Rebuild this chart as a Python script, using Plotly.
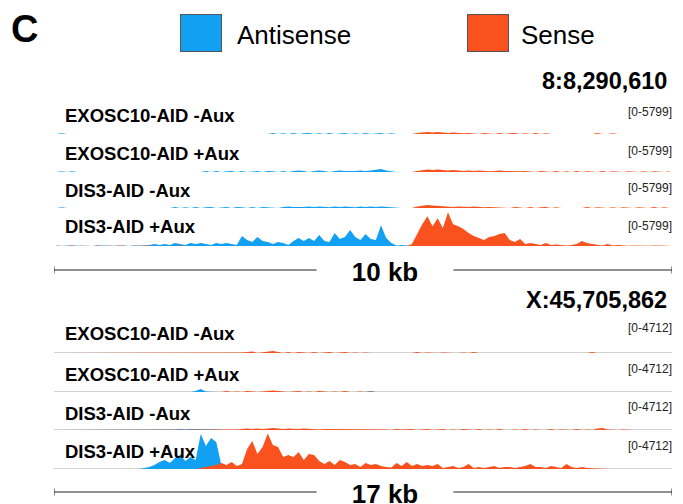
import plotly.graph_objects as go

W, H = 683, 504
FONT = "Liberation Sans, Arial, Helvetica, sans-serif"
BLUE = "#12A0F2"
ORANGE = "#F9521E"

# ---------------- data ----------------
panel_letter = "C"
legend_labels = ["Antisense", "Sense"]
track_names = ["EXOSC10-AID -Aux", "EXOSC10-AID +Aux", "DIS3-AID -Aux", "DIS3-AID +Aux"]
top_locus = "8:8,290,610"
bottom_locus = "X:45,705,862"
top_max = 5799
bottom_max = 4712
top_range_label = "[0-5799]"
bottom_range_label = "[0-4712]"
top_span_kb = 10
bottom_span_kb = 17
top_scale_label = "10 kb"
bottom_scale_label = "17 kb"
N_BINS = 120

Z10 = [0, 0, 0, 0, 0, 0, 0, 0, 0, 0]

# top locus, antisense / sense coverage per bin
top_exo_minus_as = ([0, 110, 0, 0, 110, 0, 110, 0, 0, 110]
                    + [0, 110, 0, 110, 0, 0, 110, 0, 110, 0]
                    + [110, 0, 0, 110, 0, 110, 0, 110, 0, 0]
                    + [110, 0, 110, 0, 110, 0, 110, 0, 110, 0]
                    + [110, 0, 160, 0, 110, 0, 160, 0, 110, 160]
                    + [0, 110, 0, 160, 0, 110, 160, 0, 110, 0]
                    + [160, 0, 110, 160, 0, 110, 0, 0, 0, 0])
top_exo_minus_s = (Z10 * 7
                   + [160, 240, 320, 240, 320, 240, 160, 240, 160, 110]
                   + [160, 110, 0, 160, 110, 0, 160, 0, 110, 160]
                   + [0, 110, 0, 160, 0, 110, 0, 0, 110, 0]
                   + [110, 0, 0, 110, 0, 160, 0, 0, 110, 0]
                   + [0, 110, 0, 0, 110, 0, 0, 110, 0, 0])
top_exo_plus_as = ([0, 110, 0, 110, 0, 0, 110, 0, 0, 110]
                   + [0, 0, 110, 0, 110, 0, 0, 110, 0, 0]
                   + [110, 0, 110, 0, 0, 110, 0, 110, 0, 160]
                   + [0, 160, 0, 110, 160, 0, 160, 0, 110, 160]
                   + [0, 160, 110, 0, 160, 0, 160, 240, 160, 0]
                   + [160, 240, 160, 0, 160, 240, 160, 110, 160, 240]
                   + [160, 240, 320, 480, 240, 110, 0, 0, 0, 0])
top_exo_plus_s = (Z10 * 7
                  + [160, 240, 400, 320, 400, 320, 240, 320, 240, 160]
                  + [240, 160, 240, 160, 110, 160, 240, 160, 110, 160]
                  + [110, 160, 110, 0, 160, 110, 0, 160, 0, 110]
                  + [0, 160, 0, 110, 0, 0, 160, 0, 110, 0]
                  + [0, 110, 0, 0, 110, 0, 110, 0, 0, 110])
top_dis_minus_as = ([0, 110, 0, 0, 110, 0, 110, 0, 0, 110]
                    + [0, 110, 0, 0, 110, 0, 110, 0, 110, 0]
                    + [0, 110, 0, 160, 0, 110, 0, 160, 0, 110]
                    + [160, 0, 110, 160, 0, 160, 110, 0, 160, 0]
                    + [160, 110, 160, 0, 160, 240, 160, 110, 160, 240]
                    + [160, 240, 160, 110, 240, 160, 240, 160, 110, 240]
                    + [160, 240, 160, 240, 160, 110, 0, 0, 0, 0])
top_dis_minus_s = (Z10 * 7
                   + [240, 400, 480, 400, 320, 240, 240, 160, 240, 160]
                   + [160, 240, 160, 110, 160, 110, 160, 110, 0, 160]
                   + [110, 0, 160, 0, 110, 160, 0, 110, 0, 0]
                   + [110, 0, 0, 160, 0, 110, 0, 0, 110, 0]
                   + [110, 0, 0, 110, 0, 0, 160, 0, 110, 0])
top_dis_plus_as = ([80, 0, 80, 50, 0, 80, 50, 0, 80, 50]
                   + [80, 0, 50, 80, 0, 80, 50, 80, 160, 320]
                   + [160, 320, 160, 480, 320, 160, 480, 320, 480, 320]
                   + [160, 480, 320, 480, 320, 160, 1600, 960, 640, 1440]
                   + [800, 640, 320, 640, 480, 160, 800, 1280, 800, 1280]
                   + [800, 1760, 800, 640, 2080, 1120, 1440, 2560, 1440, 960]
                   + [1920, 1120, 960, 3360, 1280, 480, 80, 160, 80, 0])
top_dis_plus_s = ([50, 0, 0, 80, 0, 50, 0, 0, 80, 0]
                  + [50, 0, 80, 0, 0, 50, 0, 80, 0, 0]
                  + [0, 50, 0, 0, 80, 0, 0, 50, 0, 0]
                  + [80, 0, 0, 50, 0, 0, 0, 80, 0, 0]
                  + [50, 0, 0, 0, 80, 0, 0, 50, 0, 0]
                  + [0, 80, 0, 0, 0, 50, 0, 0, 0, 80]
                  + [0, 0, 50, 0, 0, 80, 0, 50, 0, 320]
                  + [1920, 3520, 4800, 3200, 4480, 2880, 5440, 3520, 3200, 2720]
                  + [2080, 1600, 1280, 960, 1440, 1600, 1920, 2080, 960, 640]
                  + [1120, 320, 480, 320, 160, 480, 160, 240, 160, 80]
                  + [160, 320, 800, 480, 320, 160, 80, 320, 80, 160]
                  + [80, 50, 80, 50, 80, 50, 80, 50, 80, 50])

# bottom locus
bot_exo_minus_as = (Z10 * 3 + [65, 0, 0, 0, 0, 0, 0, 0, 0, 0]
                    + Z10 * 3 + [0, 0, 65, 0, 0, 0, 0, 0, 0, 0] + Z10 * 4)
bot_exo_minus_s = (Z10
                   + [0, 0, 0, 0, 0, 0, 0, 0, 0, 65]
                   + [0, 0, 0, 0, 65, 0, 0, 0, 0, 0]
                   + [0, 0, 0, 65, 0, 0, 65, 130, 200, 0]
                   + [65, 130, 260, 130, 0, 130, 0, 130, 65, 0]
                   + [130, 0, 65, 130, 0, 65, 130, 0, 65, 0]
                   + [65, 0, 0, 65, 0, 65, 0, 0, 65, 0]
                   + [130, 0, 65, 0, 0, 65, 0, 0, 0, 65]
                   + [0, 130, 0, 0, 65, 0, 0, 65, 0, 0]
                   + [65, 0, 0, 0, 65, 0, 0, 0, 65, 0]
                   + [0, 0, 65, 0, 130, 0, 0, 0, 0, 0]
                   + [0, 0, 65, 0, 0, 0, 0, 0, 0, 0])
bot_exo_plus_as = (Z10 * 2 + [0, 0, 0, 0, 0, 0, 0, 130, 390, 65]
                   + Z10 * 3 + [0, 130, 0, 0, 0, 0, 0, 0, 0, 0] + Z10 * 5)
bot_exo_plus_s = (Z10 * 2
                  + [0, 0, 65, 0, 0, 0, 65, 0, 0, 0]
                  + [65, 0, 0, 130, 0, 65, 0, 130, 65, 0]
                  + [65, 130, 200, 130, 65, 0, 65, 130, 0, 65]
                  + [0, 130, 65, 0, 65, 0, 130, 0, 0, 65]
                  + [0, 65, 0, 0, 65, 0, 0, 65, 0, 0]
                  + [65, 0, 0, 0, 65, 0, 0, 0, 65, 0]
                  + [0, 65, 0, 0, 0, 0, 65, 0, 0, 0]
                  + [0, 65, 0, 0, 0, 0, 0, 65, 0, 0]
                  + [0, 0, 0, 65, 0, 0, 0, 0, 0, 0]
                  + Z10)
bot_dis_minus_as = (Z10 * 2 + [0, 0, 0, 65, 130, 65, 130, 130, 65, 130]
                    + [130, 65, 0, 0, 0, 0, 0, 0, 0, 0] + Z10 * 8)
bot_dis_minus_s = (Z10 * 3
                   + [0, 0, 0, 0, 0, 65, 130, 200, 130, 200]
                   + [130, 200, 260, 200, 130, 200, 130, 130, 200, 130]
                   + [130, 65, 130, 130, 65, 130, 65, 130, 65, 130]
                   + [65, 130, 65, 130, 65, 0, 130, 65, 65, 130]
                   + [0, 65, 130, 0, 65, 130, 0, 65, 0, 130]
                   + [65, 0, 130, 0, 65, 0, 130, 0, 0, 65]
                   + [0, 130, 0, 65, 0, 0, 130, 0, 65, 0]
                   + [0, 130, 0, 65, 0, 200, 260, 65, 0, 0]
                   + [65, 0, 0, 0, 0, 0, 0, 0, 0, 0])
bot_dis_plus_as = (Z10
                   + [0, 0, 0, 0, 0, 0, 0, 130, 260, 520]
                   + [920, 1180, 790, 1440, 1830, 1050, 1570, 1180, 4590, 3010]
                   + [4060, 3540, 520, 130, 65, 65, 0, 0, 0, 0]
                   + Z10 * 2
                   + [0, 0, 0, 260, 0, 0, 0, 0, 0, 0]
                   + Z10
                   + [0, 0, 0, 0, 0, 0, 0, 130, 0, 0]
                   + [0, 0, 0, 0, 200, 0, 0, 0, 130, 0]
                   + Z10 * 2)
bot_dis_plus_s = (Z10
                  + [0, 0, 0, 0, 0, 0, 0, 0, 0, 65]
                  + [0, 65, 0, 65, 0, 65, 65, 0, 130, 260]
                  + [390, 520, 790, 520, 920, 390, 660, 2620, 3670, 1970]
                  + [2880, 4650, 3140, 2880, 1570, 1830, 1570, 2230, 1180, 1970]
                  + [1830, 1050, 660, 1050, 520, 1180, 920, 520, 660, 260]
                  + [790, 520, 660, 390, 260, 200, 790, 390, 920, 390]
                  + [660, 390, 520, 390, 660, 130, 260, 390, 130, 260]
                  + [660, 130, 260, 130, 260, 390, 130, 260, 260, 130]
                  + [260, 390, 660, 260, 260, 130, 390, 260, 130, 660]
                  + [260, 130, 260, 130, 130, 65, 40, 0, 40, 0]
                  + [0, 40, 0, 0, 40, 0, 0, 40, 0, 0])

top_tracks = [(top_exo_minus_as, top_exo_minus_s), (top_exo_plus_as, top_exo_plus_s),
              (top_dis_minus_as, top_dis_minus_s), (top_dis_plus_as, top_dis_plus_s)]
bot_tracks = [(bot_exo_minus_as, bot_exo_minus_s), (bot_exo_plus_as, bot_exo_plus_s),
              (bot_dis_minus_as, bot_dis_minus_s), (bot_dis_plus_as, bot_dis_plus_s)]

# ---------------- layout helpers (pixel positions) ----------------
def px(x):
    return x / W

def py(y):
    return 1 - y / H

X0, X1 = 54, 672
TRACK_H = 36
top_baselines = [134, 172, 208, 246]
bot_baselines = [353, 392, 430, 469]
top_label_y = [116, 153, 190, 227]
bot_label_y = [333, 374, 413, 451]
top_rng_y = [112, 151, 188, 226]
bot_rng_y = [328, 369, 407, 446]

fig = go.Figure()
layout = dict(
    width=W, height=H, margin=dict(l=0, r=0, t=0, b=0),
    paper_bgcolor="white", plot_bgcolor="rgba(0,0,0,0)", showlegend=False,
    xaxis=dict(domain=[px(X0), px(X1)], range=[0, top_span_kb], visible=False, anchor="y"),
    xaxis2=dict(domain=[px(X0), px(X1)], range=[0, bottom_span_kb], visible=False, anchor="y5"),
)

def bins_x(span, n):
    return [(i + 0.5) * span / N_BINS for i in range(n)]

shapes = []
annotations = []

def add_track(idx, data, span, vmax, baseline, xref):
    yname = "yaxis" if idx == 1 else f"yaxis{idx}"
    layout[yname] = dict(domain=[py(baseline), py(baseline - TRACK_H)], range=[0, vmax],
                         visible=False, anchor=xref, fixedrange=True)
    yref = "y" if idx == 1 else f"y{idx}"
    for vals, col in zip(data, [BLUE, ORANGE]):
        fig.add_trace(go.Scatter(x=bins_x(span, len(vals)), y=vals, mode="lines",
                                 fill="tozeroy", fillcolor=col,
                                 line=dict(color=col, width=0),
                                 xaxis=xref, yaxis=yref, hoverinfo="skip"))
    return yref

for i, data in enumerate(top_tracks):
    add_track(i + 1, data, top_span_kb, top_max, top_baselines[i], "x")
for i, data in enumerate(bot_tracks):
    yref = add_track(i + 5, data, bottom_span_kb, bottom_max, bot_baselines[i], "x2")
    shapes.append(dict(type="line", xref="x2", yref=yref, x0=0, x1=bottom_span_kb, y0=0, y1=0,
                       line=dict(color="#c4c4c4", width=1.5), layer="below"))

# track labels
for names_y, rng_y, rlab in [(top_label_y, top_rng_y, top_range_label),
                             (bot_label_y, bot_rng_y, bottom_range_label)]:
    for name, ly, ry in zip(track_names, names_y, rng_y):
        annotations.append(dict(text=f"<b>{name}</b>", x=px(63), y=py(ly), xref="paper", yref="paper",
                                xanchor="left", yanchor="middle", showarrow=False,
                                font=dict(family=FONT, size=18.5, color="black")))
        annotations.append(dict(text=rlab, x=px(674), y=py(ry), xref="paper", yref="paper",
                                xanchor="right", yanchor="middle", showarrow=False,
                                font=dict(family=FONT, size=12, color="#222")))

# panel letter
annotations.append(dict(text=f"<b>{panel_letter}</b>", x=px(9), y=py(29), xref="paper", yref="paper",
                        xanchor="left", yanchor="middle", showarrow=False,
                        font=dict(family=FONT, size=38, color="black")))
# legend
for lab, col, bx, tx in [(legend_labels[0], BLUE, 201, 235), (legend_labels[1], ORANGE, 488, 519)]:
    annotations.append(dict(text=" ", x=px(bx), y=py(33), xref="paper", yref="paper",
                            xanchor="center", yanchor="middle", showarrow=False,
                            width=40, height=36, bgcolor=col, bordercolor="#555",
                            borderwidth=1, borderpad=0, font=dict(size=6)))
    annotations.append(dict(text=lab, x=px(tx), y=py(35), xref="paper", yref="paper",
                            xanchor="left", yanchor="middle", showarrow=False,
                            font=dict(family=FONT, size=26, color="black")))
# loci
for txt, yy in [(top_locus, 81), (bottom_locus, 300)]:
    annotations.append(dict(text=f"<b>{txt}</b>", x=px(669), y=py(yy), xref="paper", yref="paper",
                            xanchor="right", yanchor="middle", showarrow=False,
                            font=dict(family=FONT, size=23.5, color="black")))
# scale bars
for xref, span, lab, yy in [("x", top_span_kb, top_scale_label, 270),
                            ("x2", bottom_span_kb, bottom_scale_label, 492)]:
    shapes.append(dict(type="line", xref=xref, yref="paper", x0=0, x1=span, y0=py(yy), y1=py(yy),
                       line=dict(color="#222", width=1)))
    for xe in (0, span):
        shapes.append(dict(type="line", xref=xref, yref="paper", x0=xe, x1=xe,
                           y0=py(yy - 3.5), y1=py(yy + 3.5), line=dict(color="#222", width=1)))
    annotations.append(dict(text=f"<b>{lab}</b>", x=px(385), y=py(yy + 2), xref="paper", yref="paper",
                            xanchor="center", yanchor="middle", showarrow=False,
                            width=134, bgcolor="white",
                            font=dict(family=FONT, size=26, color="black")))

layout["shapes"] = shapes
layout["annotations"] = annotations
fig.update_layout(**layout)
fig.write_html("out.html", config={"displayModeBar": False},
               post_script="document.body.style.margin='0';document.body.style.padding='0';"
                           "document.body.style.overflow='hidden';")
